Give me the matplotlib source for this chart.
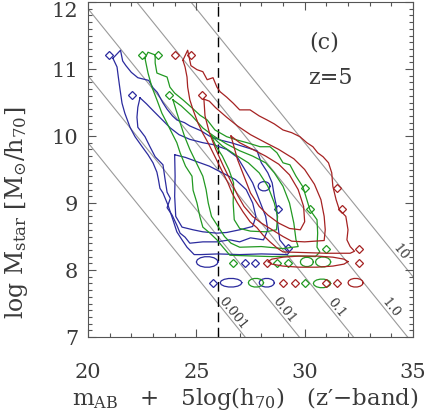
import numpy as np
import matplotlib
matplotlib.use('Agg')
import matplotlib.pyplot as plt
from matplotlib.ticker import MultipleLocator

plt.rcParams['font.family'] = 'DejaVu Serif'
plt.rcParams['mathtext.fontset'] = 'dejavuserif'
plt.rcParams['mathtext.default'] = 'regular'

# reference lines: log M = 7 - 0.4 (m - m0)
line_m0 = [27.25, 29.75, 32.25, 34.75, 37.25]
line_labels = ['0.001', '0.01', '0.1', '1.0', '10']
label_y = [7.35, 7.40, 7.43, 7.43, 8.26]
mag_cut = 26.0

# contour outlines (m, log M)
blue_outer = [(21.15, 11.16), (21.5, 11.28), (21.6, 11.12), (21.75, 11.05), (22.0, 10.95), (22.3, 10.87),
              (22.8, 10.83), (23.0, 10.72), (23.2, 10.65), (23.45, 10.5), (23.65, 10.4), (23.9, 10.3),
              (24.1, 10.24), (24.45, 10.2), (24.7, 10.15), (25.2, 10.08), (25.6, 10.0), (26.1, 9.94),
              (26.6, 9.9), (27.2, 9.84), (27.8, 9.78), (28.0, 9.6), (28.3, 9.45), (28.5, 9.3), (28.6, 9.1),
              (28.7, 8.95), (28.75, 8.7), (28.85, 8.45), (29.1, 8.35), (29.3, 8.27), (29.2, 8.23),
              (28.0, 8.24), (27.0, 8.23), (26.0, 8.24), (25.2, 8.23), (24.9, 8.23), (24.57, 8.34),
              (24.34, 8.45), (24.1, 8.57), (23.92, 8.75), (23.69, 8.97), (23.46, 9.15), (23.32, 9.22),
              (23.25, 9.35), (23.18, 9.46), (23.0, 9.6), (22.77, 9.72), (22.5, 9.84), (22.17, 9.99),
              (21.94, 10.13), (21.7, 10.34), (21.57, 10.49), (21.48, 10.69), (21.4, 10.88), (21.34, 11.03),
              (21.15, 11.16)]
blue_mid = [(22.4, 10.57), (22.7, 10.48), (23.0, 10.38), (23.4, 10.25), (23.8, 10.12), (24.2, 10.02),
            (24.7, 9.95), (25.3, 9.9), (25.8, 9.87), (26.4, 9.8), (26.9, 9.68), (27.2, 9.52), (27.6, 9.3),
            (27.9, 9.05), (28.2, 8.8), (28.3, 8.6), (28.1, 8.45), (27.5, 8.48), (27.0, 8.42), (26.55, 8.45),
            (25.95, 8.42), (25.3, 8.42), (24.7, 8.4), (24.48, 8.49), (24.25, 8.55), (24.1, 8.67),
            (23.88, 8.82), (23.65, 8.93), (23.8, 9.07), (23.65, 9.16), (23.55, 9.37), (23.46, 9.57),
            (23.1, 9.69), (22.86, 9.84), (22.63, 9.99), (22.3, 10.13), (22.26, 10.28), (22.3, 10.43),
            (22.4, 10.57)]
blue_inner = [(24.0, 9.72), (24.5, 9.68), (25.0, 9.62), (25.6, 9.55), (26.2, 9.45), (26.8, 9.35),
              (27.3, 9.2), (27.6, 9.0), (27.75, 8.8), (27.6, 8.65), (27.0, 8.6), (26.4, 8.56),
              (25.95, 8.55), (25.3, 8.57), (24.85, 8.6), (24.34, 8.64), (24.05, 8.8), (24.0, 9.1),
              (24.02, 9.4), (24.0, 9.72)]

green_outer = [(22.63, 11.16), (22.77, 11.25), (23.1, 11.21), (23.1, 11.09), (23.18, 10.94), (23.41, 10.91),
               (23.65, 10.88), (23.78, 10.73), (24.0, 10.64), (24.38, 10.54), (24.8, 10.42), (25.17, 10.31),
               (25.5, 10.24), (25.86, 10.09), (26.4, 9.99), (26.88, 9.94), (27.34, 9.9), (27.94, 9.84),
               (28.4, 9.84), (28.72, 9.75), (29.0, 9.6), (29.32, 9.57), (29.6, 9.4), (29.92, 9.24),
               (30.1, 9.05), (30.24, 8.9), (30.57, 8.75), (30.6, 8.55), (30.57, 8.34), (30.7, 8.27),
               (30.5, 8.2), (29.5, 8.21), (28.5, 8.2), (27.5, 8.21), (26.55, 8.22), (26.23, 8.34),
               (25.95, 8.45), (25.63, 8.55), (25.3, 8.64), (25.17, 8.79), (25.03, 9.0), (24.85, 9.19),
               (24.8, 9.4), (24.5, 9.55), (24.25, 9.75), (24.1, 9.9), (23.88, 10.04), (23.65, 10.19),
               (23.41, 10.34), (23.18, 10.54), (22.95, 10.73), (22.77, 10.94), (22.63, 11.16)]
green_mid = [(23.92, 10.54), (24.3, 10.45), (24.8, 10.3), (25.3, 10.12), (25.8, 10.0), (26.4, 9.88),
             (27.0, 9.78), (27.6, 9.7), (28.2, 9.6), (28.6, 9.45), (29.0, 9.25), (29.3, 9.0), (29.5, 8.7),
             (29.6, 8.45), (29.7, 8.35), (29.0, 8.32), (28.0, 8.35), (27.0, 8.34), (26.6, 8.4), (26.3, 8.5),
             (26.0, 8.65), (25.7, 8.8), (25.55, 9.0), (25.45, 9.2), (25.3, 9.4), (25.0, 9.6), (24.7, 9.8),
             (24.45, 10.0), (24.25, 10.2), (24.1, 10.35), (23.92, 10.54)]
green_inner = [(25.7, 10.0), (26.2, 9.85), (26.8, 9.72), (27.4, 9.6), (27.9, 9.45), (28.3, 9.25),
               (28.6, 9.0), (28.75, 8.8), (28.7, 8.6), (28.2, 8.57), (27.5, 8.58), (27.0, 8.62),
               (26.75, 8.75), (26.7, 9.0), (26.72, 9.3), (26.5, 9.5), (26.2, 9.7), (25.9, 9.85), (25.7, 10.0)]

red_outer = [(24.38, 11.13), (24.6, 11.28), (24.75, 11.05), (25.03, 10.99), (25.3, 10.96), (25.5, 10.84),
             (25.77, 10.87), (25.95, 10.73), (26.1, 10.66), (26.4, 10.58), (26.7, 10.49), (27.0, 10.39),
             (27.48, 10.39), (27.9, 10.3), (28.26, 10.24), (28.6, 10.18), (29.0, 10.09), (29.4, 10.05),
             (29.78, 9.99), (30.1, 9.9), (30.38, 9.84), (30.6, 9.75), (30.85, 9.69), (31.1, 9.6),
             (31.25, 9.45), (31.3, 9.25), (31.45, 9.05), (31.6, 8.9), (31.9, 8.8), (32.0, 8.6),
             (31.95, 8.45), (32.1, 8.35), (32.3, 8.28), (32.1, 8.25), (31.0, 8.25), (30.0, 8.26),
             (29.0, 8.27), (28.72, 8.33), (28.4, 8.42), (28.08, 8.52), (27.8, 8.63), (27.48, 8.72),
             (27.15, 8.87), (26.88, 9.01), (26.65, 9.15), (26.46, 9.3), (26.23, 9.45), (26.0, 9.6),
             (25.77, 9.75), (25.54, 9.9), (25.3, 10.04), (25.08, 10.19), (24.85, 10.39), (24.7, 10.54),
             (24.6, 10.73), (24.57, 10.88), (24.48, 11.03), (24.38, 11.13)]
red_mid = [(25.35, 10.55), (25.6, 10.52), (25.9, 10.42), (26.4, 10.28), (26.9, 10.15), (27.5, 10.02),
           (28.2, 9.9), (28.8, 9.8), (29.5, 9.66), (30.0, 9.5), (30.45, 9.28), (30.75, 9.05), (30.9, 8.8),
           (30.95, 8.6), (30.9, 8.44), (30.0, 8.42), (29.4, 8.43), (29.0, 8.5), (28.5, 8.6), (28.0, 8.7),
           (27.6, 8.8), (27.2, 8.95), (26.9, 9.12), (26.6, 9.32), (26.25, 9.55), (25.9, 9.8), (25.6, 10.05),
           (25.4, 10.3), (25.35, 10.55)]
red_inner = [(26.6, 10.0), (27.0, 9.9), (27.6, 9.8), (28.2, 9.7), (28.8, 9.58), (29.3, 9.42), (29.7, 9.2),
             (29.95, 8.95), (30.0, 8.72), (29.8, 8.6), (29.3, 8.62), (28.8, 8.7), (28.3, 8.82), (27.9, 8.95),
             (27.5, 9.15), (27.2, 9.4), (26.9, 9.65), (26.6, 10.0)]

# small closed ovals: (m_left, m_right, logM_centre, half height)
blue_ovals = [(25.0, 26.0, 8.12, 0.08), (26.1, 27.1, 7.81, 0.065), (27.9, 28.6, 7.81, 0.065),
              (27.85, 28.4, 9.25, 0.07)]
green_ovals = [(29.8, 30.4, 8.12, 0.07), (30.5, 31.2, 8.12, 0.075), (27.4, 28.1, 7.81, 0.065),
               (30.4, 31.2, 7.80, 0.065)]
red_ovals = [(28.3, 32.0, 8.125, 0.085), (32.0, 32.7, 7.81, 0.065)]

# tiny diamond-shaped contours
blue_dia_x = [20.97, 22.03, 28.77, 29.23, 27.25, 27.7, 25.77]
blue_dia_y = [11.21, 10.61, 8.91, 8.33, 8.10, 8.10, 7.81]
green_dia_x = [22.49, 23.23, 23.74, 30.0, 30.24, 31.0, 26.7, 28.7, 29.23, 30.0]
green_dia_y = [11.21, 11.21, 10.61, 9.22, 8.91, 8.32, 8.10, 8.10, 8.10, 7.80]
red_dia_x = [24.01, 24.75, 25.26, 31.5, 31.72, 32.5, 32.5, 28.26, 29.0, 29.55, 31.0, 31.5]
red_dia_y = [11.21, 11.21, 10.61, 9.22, 8.91, 8.31, 8.10, 8.10, 7.80, 7.80, 7.80, 7.80]

blue = '#2b2b9e'
green = '#229922'
red = '#a52222'
txt = '#3a3a3a'


def oval(x1, x2, yc, hh):
    t = np.linspace(0, 2 * np.pi, 15)
    return (x1 + x2) / 2 + (x2 - x1) / 2 * np.cos(t), yc + hh * np.sin(t)


fig = plt.figure(figsize=(4.36, 4.17), dpi=100)
ax = fig.add_axes([88 / 436, 1 - 337 / 417, 325 / 436, 335 / 417])

m = np.array([15.0, 40.0])
for m0, lab, ly in zip(line_m0, line_labels, label_y):
    ax.plot(m, 7 - 0.4 * (m - m0), color='#9a9a9a', lw=0.8, zorder=1)
    ax.text(m0 - (ly - 7) / 0.4 + 0.3, ly, lab, rotation=-51, ha='center', va='center',
            fontsize=9.5, color=txt, rotation_mode='anchor')

ax.axvline(mag_cut, color='black', lw=1.0, dashes=(7, 4), zorder=2)

for col, curves, ovals, dx, dy in [
        (blue, [blue_outer, blue_mid, blue_inner], blue_ovals, blue_dia_x, blue_dia_y),
        (green, [green_outer, green_mid, green_inner], green_ovals, green_dia_x, green_dia_y),
        (red, [red_outer, red_mid, red_inner], red_ovals, red_dia_x, red_dia_y)]:
    for c in curves:
        xs, ys = zip(*c)
        ax.plot(xs, ys, color=col, lw=0.9, zorder=3)
    for o in ovals:
        ox, oy = oval(*o)
        ax.plot(ox, oy, color=col, lw=0.9, zorder=3)
    ax.plot(dx, dy, ls='none', marker='D', ms=3.8, mfc='none', mec=col, mew=0.9, zorder=3)

ax.text(30.9, 11.39, '(c)', fontsize=16, ha='center', va='center', color=txt)
ax.text(31.2, 10.87, 'z=5', fontsize=16, ha='center', va='center', color=txt)

ax.set_xlim(20, 35)
ax.set_ylim(7, 12)
ax.xaxis.set_major_locator(MultipleLocator(5))
ax.xaxis.set_minor_locator(MultipleLocator(1))
ax.set_yticks([7, 8, 9, 10, 11, 12])
ax.yaxis.set_minor_locator(MultipleLocator(0.1))
ax.tick_params(which='both', direction='in', top=True, right=True, color='#555555', width=0.8)
ax.tick_params(which='major', length=6)
ax.tick_params(which='minor', length=3)
ax.tick_params(axis='x', pad=19, labelsize=15, labelcolor=txt)
ax.tick_params(axis='y', pad=7, labelsize=15, labelcolor=txt)
ax.yaxis.get_major_ticks()[-1].label1.set_va('top')
for s in ax.spines.values():
    s.set_color('#555555')
    s.set_linewidth(0.8)

fig.text(0.562, 0.045, 'm$_{AB}$   +   5log(h$_{70}$)   (z′−band)', ha='center', va='center',
         fontsize=16.5, color=txt)
fig.text(0.037, 0.49, r'log M$_{star}$ [M$_{\odot}$/h$_{70}$]', ha='center', va='center',
         rotation=90, fontsize=17, color=txt)

fig.savefig('out.png', dpi=100)
